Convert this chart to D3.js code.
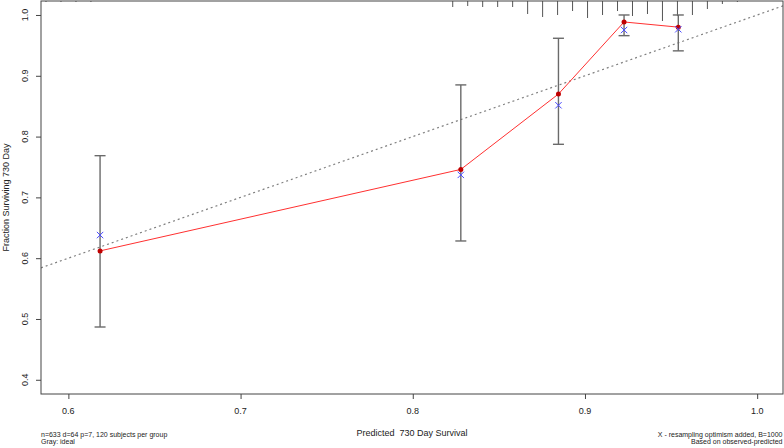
<!DOCTYPE html>
<html>
<head>
<meta charset="utf-8">
<script src="https://cdn.jsdelivr.net/npm/d3@7"></script>
<style>
  body { margin: 0; background: #fff; }
  text { font-family: "Liberation Sans", Arial, sans-serif; fill: #222; white-space: pre; }
</style>
</head>
<body>
<svg id="chart" width="784" height="448"></svg>
<script>
// calibration groups (mean predicted, observed KM, bias-corrected, CI)
const groupPred = [0.6184, 0.8279, 0.8846, 0.9227, 0.9542];
const observed = [0.612, 0.746, 0.870, 0.9885, 0.980];
const corrected = [0.638, 0.737, 0.8515, 0.9753, 0.9765];
const lower = [0.4868, 0.6283, 0.7873, 0.966, 0.941];
const upper = [0.7686, 0.885, 0.9617, 1.0, 1.0];

// distribution of predicted values (rug along top)
const rugPred = [0.587, 0.5957, 0.6044, 0.6131,
  0.8232, 0.8319, 0.8406, 0.8493, 0.858, 0.8667, 0.8754, 0.8841, 0.8928, 0.9015,
  0.9102, 0.9189, 0.9276, 0.9363, 0.945, 0.9537, 0.9624, 0.9711, 0.9798, 0.9885];
const rugFreq = [1, 1, 1, 1,
  6, 5, 6, 6, 6, 13, 16, 14, 10, 17,
  14, 10, 15, 13, 20, 15, 14, 8, 3, 1];

const xTicks = [0.6, 0.7, 0.8, 0.9, 1.0];
const yTicks = [0.4, 0.5, 0.6, 0.7, 0.8, 0.9, 1.0];

const xTitle = "Predicted  730 Day Survival";
const yTitle = "Fraction Surviving 730 Day";
const noteLeft = ["n=633 d=64 p=7, 120 subjects per group", "Gray: ideal"];
const noteRight = ["X - resampling optimism added, B=1000", "Based on observed-predicted"];

const box = { left: 41, right: 783, top: 1, bottom: 394 };

const svg = d3.select("#chart");

const x = d3.scaleLinear().domain([0.5841, 1.015]).range([box.left, box.right]);
const y = d3.scaleLinear().domain([0.3766, 1.023]).range([box.bottom, box.top]);
const rugLen = d3.scaleLinear().domain([0, d3.max(rugFreq)]).range([0, 20]);

const plot = svg.append("g");
plot.append("clipPath").attr("id", "clip")
  .append("rect")
  .attr("x", box.left).attr("y", box.top)
  .attr("width", box.right - box.left).attr("height", box.bottom - box.top);

// ideal line
const [d0, d1] = x.domain();
plot.append("line")
  .attr("clip-path", "url(#clip)")
  .attr("x1", x(d0)).attr("y1", y(d0))
  .attr("x2", x(d1)).attr("y2", y(d1))
  .style("stroke", "#808080")
  .style("stroke-width", 1.2)
  .style("stroke-dasharray", "2,3");

// rug of predicted values hanging from top
plot.selectAll("line.rug")
  .data(rugPred)
  .join("line")
  .attr("class", "rug")
  .attr("x1", (d) => x(d)).attr("x2", (d) => x(d))
  .attr("y1", box.top)
  .attr("y2", (d, i) => box.top + rugLen(rugFreq[i]))
  .style("stroke", "#555")
  .style("stroke-width", 1);

// error bars
const cap = 5.5;
const bars = plot.selectAll("g.errbar")
  .data(groupPred)
  .join("g")
  .attr("class", "errbar")
  .style("stroke", "#6a6a6a")
  .style("stroke-width", 1.4);
bars.append("line")
  .attr("x1", (d) => x(d)).attr("x2", (d) => x(d))
  .attr("y1", (d, i) => y(lower[i])).attr("y2", (d, i) => y(upper[i]));
bars.append("line")
  .attr("x1", (d) => x(d) - cap).attr("x2", (d) => x(d) + cap)
  .attr("y1", (d, i) => y(lower[i])).attr("y2", (d, i) => y(lower[i]));
bars.append("line")
  .attr("x1", (d) => x(d) - cap).attr("x2", (d) => x(d) + cap)
  .attr("y1", (d, i) => y(upper[i])).attr("y2", (d, i) => y(upper[i]));

// observed line + dots
const line = d3.line()
  .x((d) => x(d))
  .y((d, i) => y(observed[i]));
plot.append("path")
  .datum(groupPred)
  .attr("d", line)
  .style("fill", "none")
  .style("stroke", "#ff3030")
  .style("stroke-width", 1);

plot.selectAll("circle.obs")
  .data(groupPred)
  .join("circle")
  .attr("class", "obs")
  .attr("cx", (d) => x(d))
  .attr("cy", (d, i) => y(observed[i]))
  .attr("r", 2.5)
  .style("fill", "#c00000");

// bias corrected X marks
const s = 3.2;
plot.selectAll("path.cor")
  .data(groupPred)
  .join("path")
  .attr("class", "cor")
  .attr("d", (d, i) => {
    const cx = x(d), cy = y(corrected[i]);
    return `M${cx - s},${cy - s}L${cx + s},${cy + s}M${cx - s},${cy + s}L${cx + s},${cy - s}`;
  })
  .style("stroke", "#4a4aff")
  .style("stroke-width", 1)
  .style("fill", "none");

// frame
svg.append("rect")
  .attr("x", box.left).attr("y", box.top)
  .attr("width", box.right - box.left).attr("height", box.bottom - box.top)
  .style("fill", "none")
  .style("stroke", "#444")
  .style("stroke-width", 1);

// axes (R style, labels drawn separately)
const xAxis = d3.axisBottom(x).tickValues(xTicks).tickSize(5).tickFormat("");
const xAxisGroup = svg.append("g")
  .attr("transform", `translate(0,${box.bottom})`)
  .call(xAxis);
xAxisGroup.select(".domain").remove();
xAxisGroup.selectAll("line").style("stroke", "#444");

svg.selectAll("text.xtick")
  .data(xTicks)
  .join("text")
  .attr("class", "xtick")
  .attr("x", (d) => x(d))
  .attr("y", 414)
  .attr("text-anchor", "middle")
  .style("font-size", "9px")
  .text((d) => d3.format(".1f")(d));

const yAxis = d3.axisLeft(y).tickValues(yTicks).tickSize(5).tickFormat("");
const yAxisGroup = svg.append("g")
  .attr("transform", `translate(${box.left},0)`)
  .call(yAxis);
yAxisGroup.select(".domain").remove();
yAxisGroup.selectAll("line").style("stroke", "#444");

svg.selectAll("text.ytick")
  .data(yTicks)
  .join("text")
  .attr("class", "ytick")
  .attr("transform", (d) => `translate(28,${y(d)}) rotate(-90)`)
  .attr("text-anchor", "middle")
  .style("font-size", "9px")
  .text((d) => d3.format(".1f")(d));

// titles
svg.append("text")
  .attr("x", (box.left + box.right) / 2)
  .attr("y", 435.5)
  .attr("text-anchor", "middle")
  .style("font-size", "9px")
  .text(xTitle);

svg.append("text")
  .attr("transform", `translate(8.8,${(box.top + box.bottom) / 2}) rotate(-90)`)
  .attr("text-anchor", "middle")
  .style("font-size", "9px")
  .text(yTitle);

// footnotes
svg.selectAll("text.noteL")
  .data(noteLeft)
  .join("text")
  .attr("class", "noteL")
  .attr("x", box.left)
  .attr("y", (d, i) => 436.8 + i * 6.8)
  .style("font-size", "7px")
  .text((d) => d);

svg.selectAll("text.noteR")
  .data(noteRight)
  .join("text")
  .attr("class", "noteR")
  .attr("x", 782.5)
  .attr("y", (d, i) => 436.8 + i * 6.8)
  .attr("text-anchor", "end")
  .style("font-size", "7px")
  .text((d) => d);
</script>
</body>
</html>
